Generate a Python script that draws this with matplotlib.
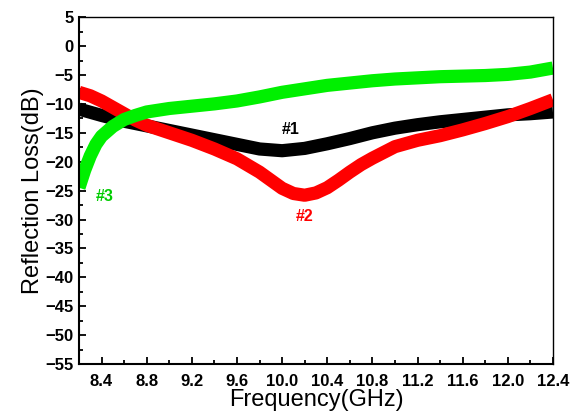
import matplotlib
matplotlib.use("Agg")
import matplotlib.pyplot as plt
from matplotlib.ticker import MultipleLocator

plt.rcParams["font.family"] = ["Liberation Sans", "DejaVu Sans"]

# Sample #1 (black)
freq_1 = [8.2, 8.4, 8.6, 8.8, 9.0, 9.2, 9.4, 9.6, 9.8, 10.0, 10.2, 10.4,
          10.6, 10.8, 11.0, 11.2, 11.4, 11.6, 11.8, 12.0, 12.2, 12.4]
rl_1 = [-10.9, -12.0, -13.0, -13.8, -14.6, -15.4, -16.2, -17.0, -17.8, -18.1,
        -17.7, -16.9, -16.0, -15.0, -14.2, -13.6, -13.1, -12.7, -12.3, -11.9,
        -11.7, -11.4]

# Sample #2 (red)
freq_2 = [8.2, 8.3, 8.4, 8.5, 8.6, 8.7, 8.8, 9.0, 9.2, 9.4, 9.6, 9.8, 9.9,
          10.0, 10.1, 10.2, 10.3, 10.4, 10.5, 10.6, 10.7, 10.8, 11.0, 11.2,
          11.4, 11.6, 11.8, 12.0, 12.2, 12.4]
rl_2 = [-8.0, -8.6, -9.5, -10.6, -11.7, -12.8, -13.7, -15.0, -16.3, -17.8,
        -19.5, -21.8, -23.2, -24.6, -25.5, -25.8, -25.4, -24.5, -23.2, -21.8,
        -20.5, -19.4, -17.4, -16.3, -15.5, -14.5, -13.4, -12.2, -10.8, -9.3]

# Sample #3 (green)
freq_3 = [8.2, 8.25, 8.3, 8.35, 8.4, 8.5, 8.6, 8.7, 8.8, 9.0, 9.2, 9.4, 9.6,
          9.8, 10.0, 10.2, 10.4, 10.6, 10.8, 11.0, 11.2, 11.4, 11.6, 11.8,
          12.0, 12.2, 12.4]
rl_3 = [-24.5, -21.5, -19.0, -17.0, -15.6, -13.9, -12.7, -12.0, -11.4, -10.8,
        -10.4, -10.0, -9.5, -8.8, -8.0, -7.4, -6.8, -6.4, -6.0, -5.7, -5.5,
        -5.3, -5.2, -5.1, -4.9, -4.5, -3.8]

fig = plt.figure(figsize=(5.79, 4.18), dpi=100)
ax = fig.add_axes([0.1364, 0.129, 0.8186, 0.83])

line_kw = dict(lw=9.5, solid_capstyle="butt", solid_joinstyle="round")
ax.plot(freq_1, rl_1, color="black", **line_kw)
ax.plot(freq_2, rl_2, color="#ff0000", **line_kw)
ax.plot(freq_3, rl_3, color="#00f000", **line_kw)

ax.text(10.08, -14.5, "#1", color="black", fontsize=11.5, fontweight="bold",
        ha="center", va="center")
ax.text(10.2, -29.5, "#2", color="#ff0000", fontsize=11.5, fontweight="bold",
        ha="center", va="center")
ax.text(8.43, -26.1, "#3", color="#00cc00", fontsize=11.5, fontweight="bold",
        ha="center", va="center")

ax.set_xlim(8.2, 12.4)
ax.set_ylim(-55, 5)
ax.xaxis.set_minor_locator(MultipleLocator(0.2))
ax.yaxis.set_major_locator(MultipleLocator(5))
ax.yaxis.set_minor_locator(MultipleLocator(2.5))
ax.set_xticks([8.4, 8.8, 9.2, 9.6, 10.0, 10.4, 10.8, 11.2, 11.6, 12.0, 12.4])
ax.set_xticklabels(["8.4", "8.8", "9.2", "9.6", "10.0", "10.4", "10.8",
                    "11.2", "11.6", "12.0", "12.4"])

ax.tick_params(which="both", direction="in", top=False, right=False, width=1.3)
ax.tick_params(which="major", length=5)
ax.tick_params(which="minor", length=3)
ax.tick_params(axis="x", pad=7)
ax.tick_params(axis="y", pad=4)
for lbl in ax.get_xticklabels() + ax.get_yticklabels():
    lbl.set_fontsize(12)
    lbl.set_fontweight("bold")

for side in ["left", "bottom"]:
    ax.spines[side].set_linewidth(1.5)
for side in ["top", "right"]:
    ax.spines[side].set_linewidth(1.0)

ax.set_xlabel("Frequency(GHz)", fontsize=17, labelpad=0)
ax.set_ylabel("Reflection Loss(dB)", fontsize=17, labelpad=1)

fig.savefig("out.png", dpi=100)
